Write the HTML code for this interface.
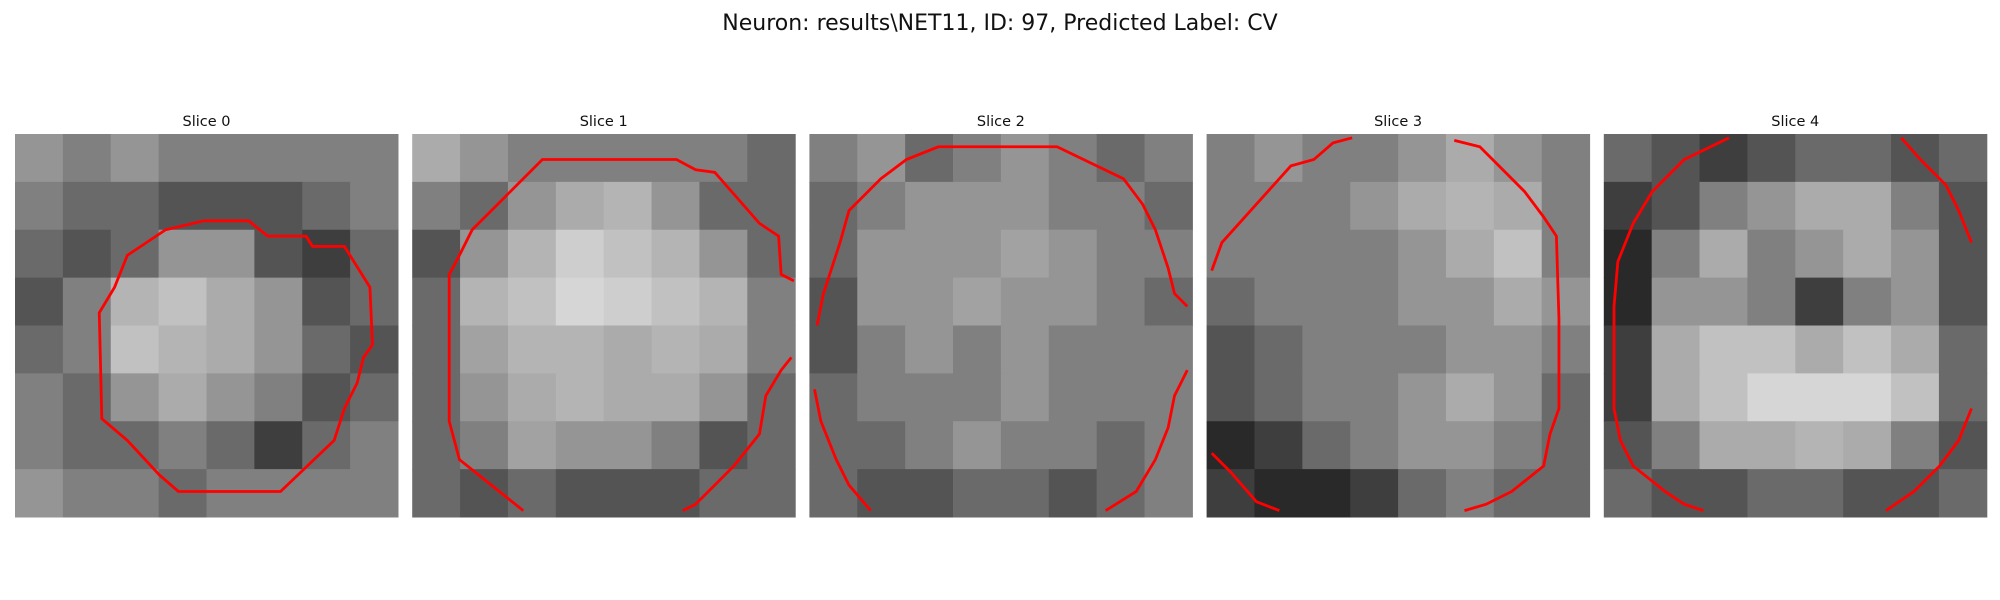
<!DOCTYPE html>
<html><head><meta charset="utf-8"><style>
html,body{margin:0;padding:0;background:#fff;width:2000px;height:600px;overflow:hidden}
svg text{font-family:"DejaVu Sans","Liberation Sans",sans-serif}
</style></head><body>
<svg id="fig" width="2000" height="600" viewBox="0 0 2000 600" xmlns="http://www.w3.org/2000/svg">
<text x="1000" y="30" text-anchor="middle" font-size="22" fill="#111">Neuron: results\NET11, ID: 97, Predicted Label: CV</text>
</svg>
<script>
// Slice titles
const sliceTitles = ["Slice 0","Slice 1","Slice 2","Slice 3","Slice 4"];
// Coarse brightness grids (8x8, 0..1) per slice
const grid0 = [[.55,.5,.55,.5,.5,.5,.5,.5],[.5,.45,.45,.4,.4,.4,.45,.5],[.45,.4,.45,.55,.55,.4,.35,.45],[.4,.5,.62,.65,.6,.55,.4,.45],[.45,.5,.65,.62,.6,.55,.45,.4],[.5,.45,.55,.6,.55,.5,.4,.45],[.5,.45,.45,.5,.45,.35,.45,.5],[.55,.5,.5,.45,.5,.5,.5,.5]];
const grid1 = [[.6,.55,.5,.5,.5,.5,.5,.45],[.5,.45,.55,.6,.62,.55,.45,.45],[.4,.55,.62,.68,.65,.62,.55,.45],[.45,.62,.65,.7,.68,.65,.62,.5],[.45,.58,.62,.62,.6,.62,.6,.5],[.45,.55,.6,.62,.6,.6,.55,.45],[.45,.5,.58,.55,.55,.5,.4,.45],[.45,.4,.45,.4,.4,.4,.45,.45]];
const grid2 = [[.5,.55,.45,.5,.55,.5,.45,.5],[.45,.5,.55,.55,.55,.5,.5,.45],[.45,.55,.55,.55,.58,.55,.5,.5],[.4,.55,.55,.58,.55,.55,.5,.45],[.4,.5,.55,.5,.55,.5,.5,.5],[.45,.5,.5,.5,.55,.5,.5,.5],[.45,.45,.5,.55,.5,.5,.45,.5],[.45,.4,.4,.45,.45,.4,.45,.5]];
const grid3 = [[.5,.55,.5,.5,.55,.6,.55,.5],[.5,.5,.5,.55,.6,.62,.6,.5],[.5,.5,.5,.5,.55,.6,.65,.5],[.45,.5,.5,.5,.55,.55,.6,.55],[.4,.45,.5,.5,.5,.55,.55,.5],[.4,.45,.5,.5,.55,.6,.55,.45],[.3,.35,.45,.5,.55,.55,.5,.45],[.35,.3,.3,.35,.45,.5,.45,.45]];
const grid4 = [[.45,.4,.35,.4,.45,.45,.4,.45],[.35,.4,.5,.55,.6,.6,.5,.4],[.3,.5,.6,.5,.55,.6,.55,.4],[.3,.55,.55,.5,.35,.5,.55,.4],[.35,.6,.65,.65,.6,.65,.6,.45],[.35,.6,.65,.7,.7,.7,.65,.45],[.4,.5,.6,.6,.62,.6,.5,.4],[.45,.4,.4,.45,.45,.4,.4,.45]];
const grids = [grid0,grid1,grid2,grid3,grid4];
// Contours in image units (0..300 per side)
const contours0 = [[[148,68],[183,68],[198,80],[228,80],[233,88],[258,88],[278,120],[280,165],[273,175],[268,195],[258,215],[250,240],[208,280],[128,280],[113,267],[88,240],[68,223],[66,140],[78,120],[88,95],[118,75],[148,68]]];
const contours1 = [[[299,115],[289,110],[287,80],[272,70],[237,30],[222,28],[207,20],[102,20],[72,50],[47,75],[37,95],[29,110],[29,225],[37,255],[87,295]],[[212,295],[222,290],[252,260],[272,235],[277,205],[289,185],[297,175]]];
const contours2 = [[[6,150],[11,125],[24,85],[31,60],[56,35],[76,20],[101,10],[194,10],[221,23],[246,35],[261,55],[271,75],[281,105],[286,125],[296,135]],[[4,200],[9,225],[21,255],[31,275],[48,295]],[[232,295],[256,280],[271,255],[281,230],[286,205],[296,185]]];
const contours3 = [[[4,107],[12,85],[39,55],[66,25],[84,20],[99,7],[114,3]],[[194,5],[214,10],[229,25],[249,45],[264,65],[274,80],[276,145],[276,215],[269,235],[264,260],[239,280],[219,290],[202,295]],[[4,250],[19,265],[39,288],[57,295]]];
const contours4 = [[[98,3],[63,20],[38,45],[23,70],[11,100],[8,135],[8,215],[13,240],[23,260],[48,280],[63,290],[78,295]],[[233,3],[248,20],[268,40],[278,60],[288,85]],[[221,295],[243,280],[263,260],[278,240],[288,215]]];
const contours = [contours0,contours1,contours2,contours3,contours4];

const NS="http://www.w3.org/2000/svg";
const svg=document.getElementById('fig');
const panelX0=15, panelStep=397.2, panelY=134, panelSize=383;
function xPanel(i){return panelX0+i*panelStep;}
function scaleImg(v){return v*panelSize/300;}
function grayOf(v){const s=0.5+(v-0.5)*1.7;const g=Math.round(Math.max(0,Math.min(1,s))*255);return `rgb(${g},${g},${g})`;}

sliceTitles.forEach((t,i)=>{
  const px=xPanel(i);
  const g=document.createElementNS(NS,'g');
  
  
  svg.appendChild(g);
  const tt=document.createElementNS(NS,'text');
  
  
  tt.setAttribute('x',px+panelSize/2);tt.setAttribute('y',126);
  tt.setAttribute('text-anchor','middle');tt.setAttribute('font-size','14.5');tt.setAttribute('fill','#111');
  tt.textContent=t;g.appendChild(tt);
  const grid=grids[i];const n=grid.length;const cs=panelSize/n;
  grid.forEach((row,r)=>row.forEach((v,c)=>{
    const rc=document.createElementNS(NS,'rect');
    
    
    rc.setAttribute('x',px+c*cs);rc.setAttribute('y',panelY+r*cs);
    rc.setAttribute('width',cs+0.5);rc.setAttribute('height',cs+0.5);
    rc.setAttribute('fill',grayOf(v));g.appendChild(rc);
  }));
  contours[i].forEach(seg=>{
    const pl=document.createElementNS(NS,'polyline');
    
    
    pl.setAttribute('points',seg.map(p=>(px+scaleImg(p[0]))+','+(panelY+scaleImg(p[1]))).join(' '));
    pl.setAttribute('fill','none');pl.setAttribute('stroke','#ff0000');pl.setAttribute('stroke-width','2.8');
    g.appendChild(pl);
  });
});
</script>
</body></html>
